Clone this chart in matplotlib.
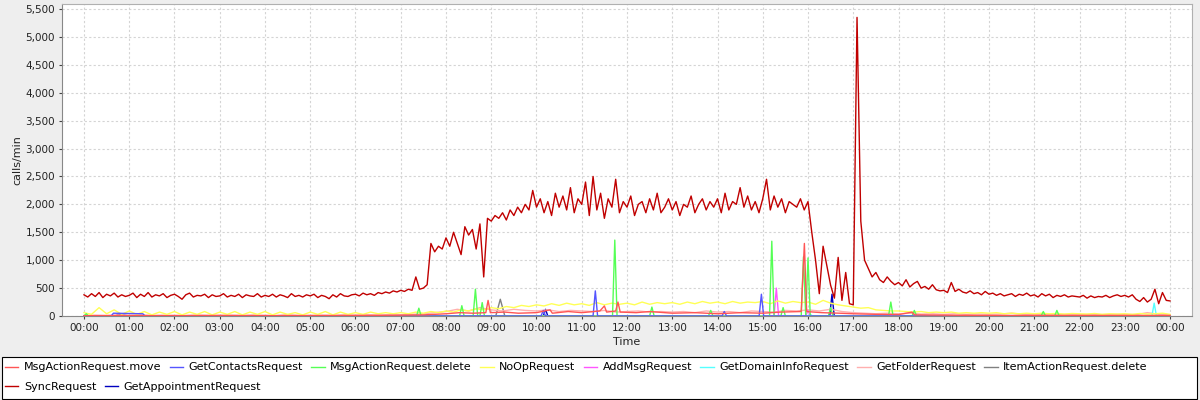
import numpy as np
import matplotlib
matplotlib.use("Agg")
import matplotlib.pyplot as plt
from matplotlib.patches import Rectangle
from matplotlib.ticker import FuncFormatter, MultipleLocator

# SyncRequest, calls/min, one value every 5 minutes from 00:00 to 24:00
sync_vals = [
    380, 340, 400, 350, 420, 330, 390, 360, 410, 340, 380, 350,
    370, 410, 330, 390, 350, 420, 340, 380, 360, 400, 330, 370,
    390, 350, 300, 380, 410, 340, 370, 360, 390, 330, 380, 350,
    360, 400, 340, 370, 350, 390, 330, 380, 360, 350, 400, 340,
    370, 350, 390, 340, 380, 360, 330, 400, 350, 370, 340, 380,
    360, 390, 330, 370, 350, 310, 380, 340, 400, 360, 350, 380,
    390, 360, 410, 380, 400, 370, 420, 400, 430, 410, 450, 430,
    460, 440, 480, 460, 700, 480, 500, 560, 1300, 1150, 1250, 1200,
    1400, 1250, 1500, 1300, 1100, 1600, 1450, 1550, 1200, 1650, 700, 1750,
    1700, 1800, 1750, 1850, 1720, 1900, 1800, 1950, 1850, 2000, 1900, 2250,
    1950, 2100, 1850, 2050, 1800, 2200, 1950, 2150, 1900, 2300, 1850, 2100,
    2000, 2400, 1800, 2500, 1900, 2200, 1750, 2100, 1950, 2450, 1850, 2050,
    1950, 2150, 1800, 2000, 2050, 1850, 2100, 1900, 2200, 1850, 1950, 2100,
    1900, 2050, 1800, 2000, 1950, 2150, 1850, 2000, 2100, 1900, 2050, 1950,
    2100, 1850, 2200, 1900, 2050, 2000, 2300, 1950, 2150, 1900, 2050, 1850,
    2100, 2450, 1900, 2150, 1950, 2100, 1850, 2050, 2000, 1950, 2100, 1900,
    2050, 1500, 1000, 400, 1250, 900, 550, 320, 1050, 280, 780, 220,
    200, 5350, 1700, 1000, 850, 700, 780, 650, 600, 700, 620, 560,
    600, 540, 650, 520, 580, 620, 500, 530, 480, 560, 470, 450,
    460, 420, 600, 440, 480, 430, 410, 450, 400, 420, 380, 440,
    390, 410, 370, 400, 360, 380, 400, 350, 390, 370, 410, 360,
    380, 340, 400, 360, 390, 330, 370, 350, 380, 340, 360, 350,
    340, 370, 320, 360, 330, 350, 340, 370, 330, 360, 380, 350,
    370, 340, 380, 300, 260, 330, 250, 300, 480, 220, 420, 280,
    270,
]

# NoOpRequest, one value every 10 minutes
noop_vals = [
    60, 30, 150, 40, 110, 30,
    90, 30, 80, 20, 70, 30,
    80, 20, 70, 30, 80, 20,
    70, 30, 80, 20, 70, 30,
    80, 20, 70, 30, 60, 20,
    70, 30, 80, 20, 70, 30,
    60, 30, 70, 40, 60, 40,
    60, 40, 70, 50, 80, 60,
    90, 70, 110, 90, 130, 110,
    150, 130, 170, 150, 190, 170,
    200, 180, 220, 190, 230, 200,
    220, 190, 240, 200, 230, 210,
    230, 200, 250, 210, 240, 220,
    240, 210, 250, 220, 260, 230,
    250, 220, 260, 230, 250, 240,
    260, 220, 270, 230, 260, 240,
    250, 210, 280, 230, 200, 180,
    160, 140, 150, 110, 100, 90,
    90, 80, 70, 80, 60, 70,
    60, 70, 50, 60, 50, 60,
    50, 60, 40, 50, 40, 50,
    40, 50, 40, 45, 35, 45,
    40, 35, 45, 30, 40, 35,
    40, 30, 45, 35, 40, 50,
    30,
]

# GetFolderRequest, one value every 15 minutes
folder_vals = [
    10, 15, 10, 20,
    10, 20, 10, 15,
    15, 10, 20, 10,
    10, 15, 10, 20,
    15, 10, 25, 10,
    10, 15, 10, 20,
    15, 20, 15, 20,
    20, 30, 40, 60,
    80, 120, 90, 150,
    110, 90, 120, 100,
    90, 110, 80, 100,
    90, 80, 100, 70,
    80, 90, 70, 80,
    70, 80, 60, 90,
    70, 80, 60, 90,
    80, 70, 100, 90,
    110, 90, 120, 80,
    60, 50, 40, 50,
    40, 50, 35, 40,
    30, 40, 30, 35,
    30, 35, 50, 30,
    25, 30, 25, 30,
    25, 30, 25, 30,
    30, 25, 60, 30,
    20,
]

# the rest are mostly zero with a few spikes: (hour, calls/min)
move_pts = [(0, 5), (1, 8), (2, 5), (3, 10), (4, 5), (5, 8), (6, 10), (7, 15), (7.5, 20),
            (8, 40), (8.3, 60), (8.6, 50), (8.88, 60), (8.93, 280), (8.98, 60), (9.3, 70),
            (9.6, 50), (10, 60), (10.3, 110), (10.35, 50), (10.7, 80), (11, 60), (11.4, 90),
            (11.5, 180), (11.55, 70), (11.75, 90), (11.8, 250), (11.85, 70), (12.2, 60),
            (12.5, 80), (13, 50), (13.5, 60), (14, 40), (14.5, 60), (15, 50), (15.4, 70),
            (15.85, 80), (15.92, 1300), (15.97, 80), (16.3, 60), (16.7, 50), (17, 40),
            (17.5, 30), (18, 25), (18.3, 70), (18.35, 20), (19, 15), (20, 10), (21, 10),
            (22, 10), (23, 10), (24, 10)]
contacts_pts = [(0, 0), (0.6, 0), (0.65, 50), (1.3, 40), (1.35, 0), (10.1, 0), (10.15, 100),
                (10.2, 0), (11.25, 0), (11.3, 450), (11.35, 0), (14.1, 0), (14.15, 80), (14.2, 0),
                (14.92, 0), (14.97, 390), (15.02, 0), (24, 0)]
delete_pts = [(0, 0), (0.05, 40), (0.1, 0), (7.35, 0), (7.4, 140), (7.45, 0), (8.3, 0), (8.35, 185),
              (8.4, 0), (8.6, 0), (8.65, 480), (8.7, 0), (8.75, 0), (8.8, 240), (8.85, 0),
              (11.68, 0), (11.73, 1360), (11.78, 0), (12.5, 0), (12.55, 160), (12.6, 0),
              (13.8, 0), (13.85, 100), (13.9, 0), (15.15, 0), (15.2, 1340), (15.25, 0),
              (15.4, 0), (15.45, 150), (15.5, 0), (15.85, 0), (15.9, 1060), (15.95, 0),
              (16.0, 1040), (16.05, 0), (16.45, 0), (16.5, 150), (16.55, 0), (17.78, 0),
              (17.83, 250), (17.88, 0), (18.3, 0), (18.35, 100), (18.4, 0), (21.15, 0),
              (21.2, 80), (21.25, 0), (21.45, 0), (21.5, 100), (21.55, 0), (24, 0)]
addmsg_pts = [(0, 0), (15.25, 0), (15.3, 500), (15.35, 0), (15.95, 0), (16.0, 100), (16.05, 0), (24, 0)]
domain_pts = [(0, 0), (16.0, 0), (16.05, 30), (16.1, 0), (23.6, 0), (23.65, 230), (23.7, 0), (24, 0)]
itemdel_pts = [(0, 0), (9.1, 0), (9.2, 300), (9.3, 0), (24, 0)]
appt_pts = [(0, 0), (0.7, 0), (0.75, 30), (1.0, 0), (10.15, 0), (10.2, 120), (10.25, 0),
            (16.48, 0), (16.53, 390), (16.58, 0), (24, 0)]

names = ["MsgActionRequest.move", "GetContactsRequest", "MsgActionRequest.delete",
         "NoOpRequest", "AddMsgRequest", "GetDomainInfoRequest", "GetFolderRequest",
         "ItemActionRequest.delete", "SyncRequest", "GetAppointmentRequest"]
colors = ["#ff5555", "#5555ff", "#55ff55", "#ffff55", "#ff55ff", "#55ffff",
          "#ffafaf", "#808080", "#c00000", "#0000c0"]

def pts(p):
    t, v = zip(*p)
    return np.array(t), np.array(v)

series = [
    pts(move_pts),
    pts(contacts_pts),
    pts(delete_pts),
    (np.arange(len(noop_vals)) * 10 / 60.0, np.array(noop_vals)),
    pts(addmsg_pts),
    pts(domain_pts),
    (np.arange(len(folder_vals)) * 15 / 60.0, np.array(folder_vals)),
    pts(itemdel_pts),
    (np.arange(len(sync_vals)) * 5 / 60.0, np.array(sync_vals)),
    pts(appt_pts),
]

fig = plt.figure(figsize=(12, 4), dpi=100, facecolor="#eeeeee")
ax = fig.add_axes([62 / 1200, 84 / 400, 1130 / 1200, 312 / 400])
ax.set_facecolor("white")

lines = []
n = len(series)
for i, (t, v) in enumerate(series):
    # jfreechart draws series 0 last, so it sits on top
    ln, = ax.plot(t, v, color=colors[i], lw=1.0, label=names[i], zorder=3 + n - i)
    lines.append(ln)

ax.set_xlim(-0.486, 24.486)
ax.set_ylim(0, 5590)
ax.xaxis.set_major_locator(MultipleLocator(1))
ax.yaxis.set_major_locator(MultipleLocator(500))
ax.xaxis.set_major_formatter(FuncFormatter(lambda h, p: "%02d:00" % (int(round(h)) % 24)))
ax.yaxis.set_major_formatter(FuncFormatter(lambda v, p: "{:,}".format(int(v))))
ax.tick_params(labelsize=7.5, colors="#444444", length=2, width=0.8, pad=3)
ax.tick_params(labelcolor="#222222")
ax.grid(True, color="#d4d4d4", linestyle=(0, (2, 2)), lw=0.8, zorder=0)
ax.set_axisbelow(True)
for s in ["left", "bottom"]:
    ax.spines[s].set_color("#888888")
for s in ["top", "right"]:
    ax.spines[s].set_color("#b0b0b0")

ax.set_xlabel("Time", fontsize=8, color="#222222", labelpad=3)
ax.set_ylabel("calls/min", fontsize=8, color="#222222", labelpad=2)

# legend box across the bottom, items flow left to right in two rows
fig.patches.append(Rectangle((2 / 1200, 1 / 400), 1195 / 1200, 42 / 400, transform=fig.transFigure,
                             facecolor="white", edgecolor="black", lw=0.8, zorder=0))
leg_kw = dict(loc="center left", fontsize=8, frameon=False, handlelength=1.2,
              handletextpad=0.5, columnspacing=0.75, borderpad=0, borderaxespad=0)
fig.legend(lines[:8], names[:8], ncol=8, bbox_to_anchor=(5 / 1200, 1 - 367.5 / 400), **leg_kw)
fig.legend(lines[8:], names[8:], ncol=2, bbox_to_anchor=(5 / 1200, 1 - 387 / 400), **leg_kw)

fig.savefig("out.png", dpi=100, facecolor=fig.get_facecolor())
